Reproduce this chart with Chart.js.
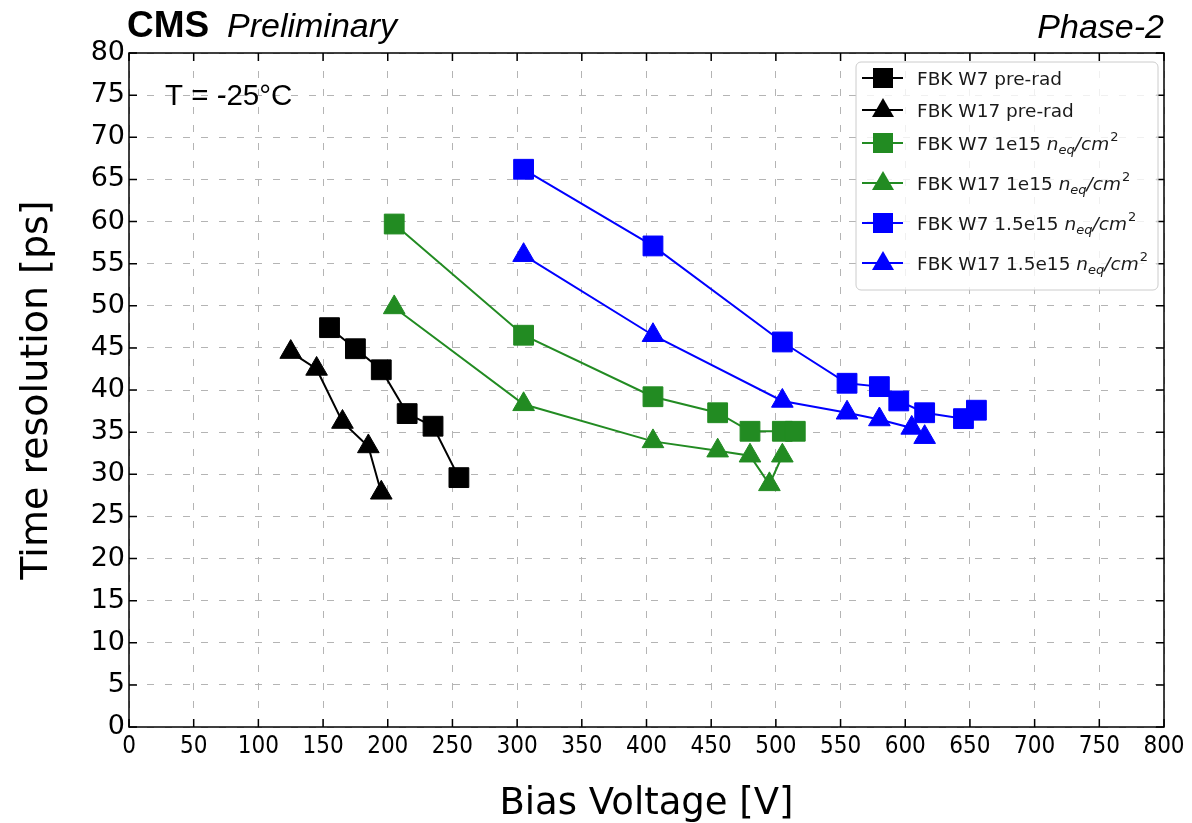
<!DOCTYPE html>
<html>
<head>
<meta charset="utf-8">
<title>Time resolution vs bias voltage</title>
<script src="https://cdn.jsdelivr.net/npm/chart.js@4"></script>
<style>
	body{margin:0;background:#fff;}
	canvas{display:block;}
</style>
</head>
<body>
<canvas id="grafica" width="1192" height="823"></canvas>
<script>
// valores
var VOLT_W7_PRE=[155,175,195,215,235,255];
var RES_W7_PRE=[47.4,44.9,42.4,37.2,35.7,29.6];
var VOLT_W17_PRE=[125,145,165,185,195];
var RES_W17_PRE=[44.5,42.5,36.2,33.3,27.8];
var VOLT_W7_1E15=[205,305,405,455,480,505,515];
var RES_W7_1E15=[59.7,46.5,39.2,37.3,35.1,35.1,35.1];
var VOLT_W17_1E15=[205,305,405,455,480,495,505];
var RES_W17_1E15=[49.8,38.3,33.9,32.8,32.2,28.8,32.2];
var VOLT_W7_15E15=[305,405,505,555,580,595,615,645,655];
var RES_W7_15E15=[66.2,57.1,45.7,40.8,40.4,38.7,37.3,36.6,37.6];
var VOLT_W17_15E15=[305,405,505,555,580,605,615];
var RES_W17_15E15=[56.0,46.5,38.7,37.3,36.5,35.5,34.4];

var LABELS=["FBK W7 pre-rad","FBK W17 pre-rad","FBK W7 1e15","FBK W17 1e15","FBK W7 1.5e15","FBK W17 1.5e15"];
var FLUENCIA=[false,false,true,true,true,true];
var COLORES=["#000000","#000000","#228B22","#228B22","#0000FF","#0000FF"];
var MARCAS=["rect","triangle","rect","triangle","rect","triangle"];

var X_MIN=0, X_MAX=800, X_PASO=50;
var Y_MIN=0, Y_MAX=80, Y_PASO=5;

function puntos(xs,ys){
	var out=new Array();
	for(var i=0;i<xs.length;i++){
		out.push({x:xs[i],y:ys[i]});
	}
	return out;
}

var SERIES=[
	puntos(VOLT_W7_PRE,RES_W7_PRE),
	puntos(VOLT_W17_PRE,RES_W17_PRE),
	puntos(VOLT_W7_1E15,RES_W7_1E15),
	puntos(VOLT_W17_1E15,RES_W17_1E15),
	puntos(VOLT_W7_15E15,RES_W7_15E15),
	puntos(VOLT_W17_15E15,RES_W17_15E15)
];

var datasets=new Array();
for(var i=0;i<SERIES.length;i++){
	datasets.push({
		label:LABELS[i],
		data:SERIES[i],
		showLine:true,
		borderColor:COLORES[i],
		backgroundColor:COLORES[i],
		borderWidth:2,
		pointStyle:MARCAS[i],
		pointRadius:MARCAS[i]=="rect"?14:12.5,
		pointBorderWidth:1,
		pointBorderColor:COLORES[i],
		pointBackgroundColor:COLORES[i],
		tension:0
	});
}

// marco con ticks hacia dentro, textos de cabecera y leyenda
var marcoPlugin={
	id:'marco',
	afterDraw:function(chart){
		var ctx=chart.ctx, a=chart.chartArea;
		var sx=chart.scales.x, sy=chart.scales.y;
		ctx.save();
		ctx.strokeStyle="#000";
		ctx.lineWidth=1.5;
		ctx.strokeRect(a.left,a.top,a.right-a.left,a.bottom-a.top);
		ctx.beginPath();
		sx.ticks.forEach(function(t){
			var px=sx.getPixelForValue(t.value);
			ctx.moveTo(px,a.bottom);ctx.lineTo(px,a.bottom-8);
			ctx.moveTo(px,a.top);ctx.lineTo(px,a.top+8);
		});
		sy.ticks.forEach(function(t){
			var py=sy.getPixelForValue(t.value);
			ctx.moveTo(a.left,py);ctx.lineTo(a.left+8,py);
			ctx.moveTo(a.right,py);ctx.lineTo(a.right-8,py);
		});
		ctx.stroke();

		// cabecera
		ctx.fillStyle="#000";
		ctx.textBaseline="alphabetic";
		ctx.textAlign="left";
		ctx.font="bold 37px 'Liberation Sans', Arial, sans-serif";
		ctx.fillText("CMS",a.left-2,37);
		ctx.font="italic 34px 'Liberation Sans', Arial, sans-serif";
		ctx.fillText("Preliminary",a.left+98,37);
		ctx.textAlign="right";
		ctx.fillText("Phase-2",a.right,38);
		ctx.textAlign="left";
		ctx.font="29.5px 'Liberation Sans', Arial, sans-serif";
		ctx.fillText("T = -25\u00B0C",165,105);

		// leyenda
		var lx=856, ly=62, lw=302, lh=228;
		ctx.beginPath();
		ctx.roundRect(lx,ly,lw,lh,5);
		ctx.fillStyle="rgba(255,255,255,0.8)";
		ctx.fill();
		ctx.strokeStyle="#cccccc";
		ctx.lineWidth=1;
		ctx.stroke();
		var filas=[78,110,143,183,223,263];
		for(var i=0;i<LABELS.length;i++){
			var cy=filas[i];
			ctx.strokeStyle=COLORES[i];
			ctx.fillStyle=COLORES[i];
			ctx.lineWidth=2;
			ctx.beginPath();
			ctx.moveTo(862,cy);ctx.lineTo(903,cy);
			ctx.stroke();
			ctx.beginPath();
			if(MARCAS[i]=="rect"){
				ctx.rect(873,cy-10,20,20);
			}else{
				ctx.moveTo(883,cy-12);ctx.lineTo(894,cy+7);ctx.lineTo(872,cy+7);ctx.closePath();
			}
			ctx.fill();
			ctx.fillStyle="#1a1a1a";
			var tx=917, ty=cy+6.5;
			ctx.font="18.5px 'DejaVu Sans', sans-serif";
			var txt=LABELS[i]+(FLUENCIA[i]?" ":"");
			ctx.fillText(txt,tx,ty);
			if(FLUENCIA[i]){
				tx+=ctx.measureText(txt).width;
				ctx.font="italic 18.5px 'DejaVu Sans', sans-serif";
				ctx.fillText("n",tx,ty);
				tx+=ctx.measureText("n").width;
				ctx.font="italic 13px 'DejaVu Sans', sans-serif";
				ctx.fillText("eq",tx,ty+4);
				tx+=ctx.measureText("eq").width;
				ctx.font="italic 18.5px 'DejaVu Sans', sans-serif";
				ctx.fillText("/cm",tx,ty);
				tx+=ctx.measureText("/cm").width;
				ctx.font="13px 'DejaVu Sans', sans-serif";
				ctx.fillText("2",tx+1,ty-9);
			}
		}
		ctx.restore();
	}
};

var config={
	type:'scatter',
	data:{datasets:datasets},
	options:{
		responsive:false,
		animation:false,
		layout:{padding:{top:53,right:28,left:0,bottom:0}},
		plugins:{
			legend:{display:false},
			tooltip:{enabled:false}
		},
		scales:{
			x:{
				type:'linear',
				min:X_MIN,max:X_MAX,
				afterFit:function(s){s.height=96;},
				ticks:{stepSize:X_PASO,padding:5,color:"#000",maxRotation:0,
					font:{family:"'DejaVu Sans Condensed','DejaVu Sans',sans-serif",size:24}},
				grid:{color:"#b4b4b4",lineWidth:1,drawTicks:false},
				border:{display:false,dash:[7,11]},
				title:{display:true,text:"Bias Voltage [V]",color:"#000",padding:{top:0,bottom:0},
					font:{family:"'DejaVu Sans',sans-serif",size:37,lineHeight:1}}
			},
			y:{
				type:'linear',
				min:Y_MIN,max:Y_MAX,
				afterFit:function(s){s.width=129;},
				ticks:{stepSize:Y_PASO,padding:4,color:"#000",
					font:{family:"'DejaVu Sans',sans-serif",size:27}},
				grid:{color:"#b4b4b4",lineWidth:1,drawTicks:false},
				border:{display:false,dash:[7,11]},
				title:{display:true,text:"Time resolution [ps]",color:"#000",padding:{top:18,bottom:0},
					font:{family:"'DejaVu Sans',sans-serif",size:38,lineHeight:1}}
			}
		}
	},
	plugins:[marcoPlugin]
};

new Chart(document.getElementById("grafica").getContext("2d"),config);
</script>
</body>
</html>
